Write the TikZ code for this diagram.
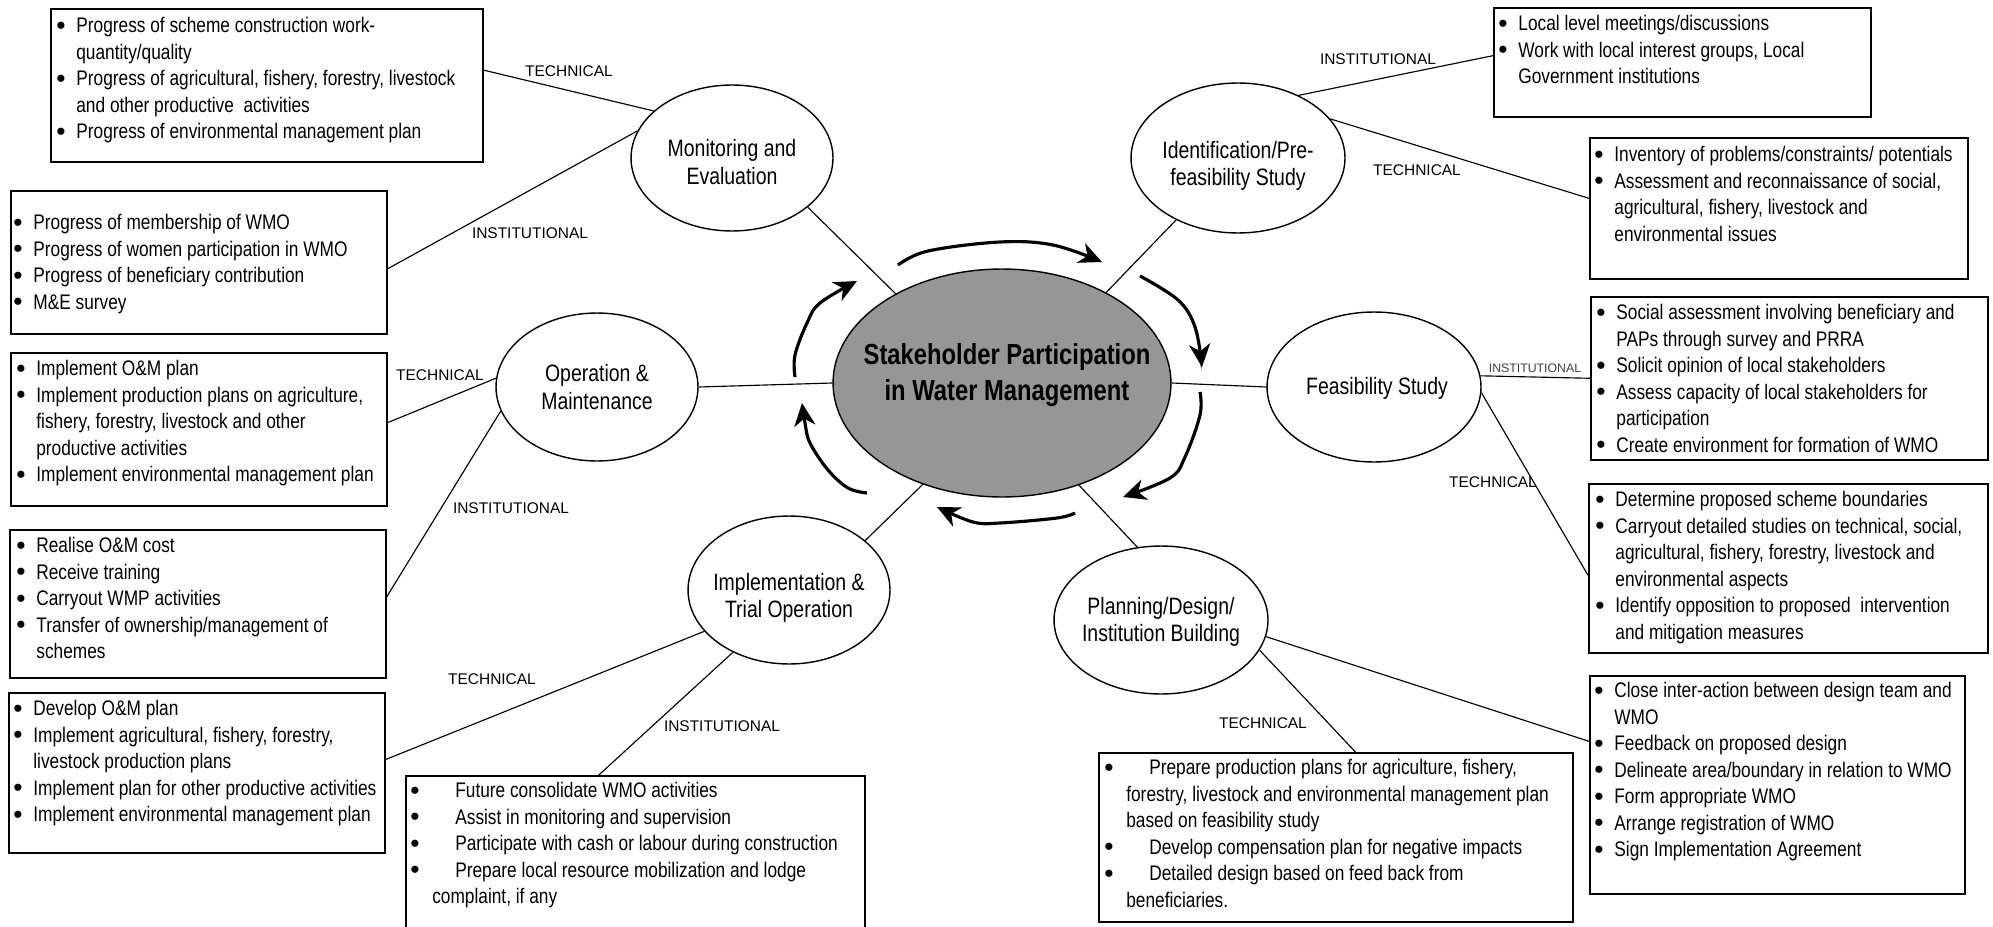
\documentclass[tikz,border=0pt]{standalone}
\usepackage{fontspec}
\setmainfont{Liberation Sans}[FakeStretch=0.82]
\newfontfamily\labelfont{Liberation Sans}
\usetikzlibrary{shapes.geometric, arrows.meta, calc}
\definecolor{hubgray}{RGB}{150,150,150}

\tikzset{
  stage/.style={ellipse, draw, line width=0.8pt, inner sep=0pt, minimum width=4.28cm, minimum height=3cm},
  hub/.style={stage, fill=hubgray, minimum width=6.76cm, minimum height=4.56cm},
  stagetext/.style={inner sep=0pt, align=center, font=\fontsize{13.5}{15.6}\selectfont},
  hubtext/.style={stagetext, font=\bfseries\fontsize{16.5}{20.5}\selectfont},
  infobox/.style={draw, line width=0.9pt, inner sep=0pt, anchor=north west},
  infotext/.style={anchor=north west, inner sep=0pt, align=left, font=\fontsize{12}{15.1}\selectfont},
  aspect/.style={inner sep=0pt, font=\labelfont\fontsize{8.8}{10}\selectfont},
  link/.style={line width=0.65pt},
  cyclearrow/.style={line width=1.8pt, -{Stealth[length=13pt, width=12pt, inset=4pt]}}
}
\newcommand{\bdot}{\raisebox{-0.08em}{\labelfont\fontsize{15}{15}\selectfont\textbullet}}
\newcommand{\bitem}{\makebox[11.4pt][l]{\bdot}}
\newcommand{\bcont}{\hspace*{11.4pt}}
\newcommand{\bwide}{\makebox[25.6pt][l]{\bdot}}
\newcommand{\bwcont}{\hspace*{12.5pt}}

\begin{document}
\begin{tikzpicture}[x=0.02cm, y=-0.02cm]
  % Frame
  \useasboundingbox (0,0) rectangle (1993,926);
  \fill[white] (0,0) rectangle (1993,926);
  % Hub and stages
  \node[hub] (hub) at (1002,383) {};
  \node[hubtext] (hubtxt) at (1007,375) {Stakeholder Participation\\in Water Management};
  \node[stage, minimum width=4.04cm, minimum height=2.92cm] (mon) at (732,158) {};
  \node[stagetext] (montxt) at (732,162) {Monitoring and\\Evaluation};
  \node[stage] (ident) at (1238,158) {};
  \node[stagetext] (identtxt) at (1238,166) {Identification/Pre-\\feasibility Study};
  \node[stage] (feas) at (1374,387) {};
  \node[stagetext] (feastxt) at (1377,388) {Feasibility Study};
  \node[stage, minimum height=2.96cm] (plan) at (1161,620) {};
  \node[stagetext] (plantxt) at (1161,622) {Planning/Design/\\Institution Building};
  \node[stage, minimum width=4.04cm, minimum height=2.96cm] (impl) at (789,590) {};
  \node[stagetext] (impltxt) at (789,598) {Implementation \&\\Trial Operation};
  \node[stage, minimum width=4.04cm, minimum height=2.96cm] (om) at (597,387) {};
  \node[stagetext] (omtxt) at (597,387) {Operation \&\\Maintenance};
  % Spokes
  \foreach \s/\h in {mon.327/hub.140, ident.225/hub.41, om.east/hub.west,
                     feas.west/hub.east, impl.33/hub.232, plan.108/hub.307}
    \draw[link] (\s) -- (\h);
  % Cycle arrows
  \draw[cyclearrow] plot[smooth, tension=0.6] coordinates {(898,265) (928,251) (1000,242) (1053,245) (1102,262)};
  \draw[cyclearrow] plot[smooth, tension=0.6] coordinates {(1140,276) (1178,300) (1195,327) (1202,367)};
  \draw[cyclearrow] plot[smooth, tension=0.6] coordinates {(1200,392) (1200,415) (1185,457) (1170,478) (1123,497)};
  \draw[cyclearrow] plot[smooth, tension=0.6] coordinates {(1075,513) (1057,518) (1000,523) (973,522) (937,507)};
  \draw[cyclearrow] plot[smooth, tension=0.6] coordinates {(867,493) (848,488) (828,470) (810,443) (805,423) (802,403)};
  \draw[cyclearrow] plot[smooth, tension=0.6] coordinates {(795,377) (795,355) (807,323) (820,303) (857,281)};
  % Boxes
  \node[infobox, minimum width=8.64cm, minimum height=3.06cm] (metech) at (50,8) {};
  \node[infobox, minimum width=7.52cm, minimum height=2.86cm] (meinst) at (10,190) {};
  \node[infobox, minimum width=7.52cm, minimum height=3.06cm] (omtech) at (10,352) {};
  \node[infobox, minimum width=7.52cm, minimum height=2.96cm] (ominst) at (9,529) {};
  \node[infobox, minimum width=7.52cm, minimum height=3.2cm] (imtech) at (8,692) {};
  \node[infobox, minimum width=9.18cm, minimum height=3.4cm] (iminst) at (405,775) {};
  \node[infobox, minimum width=7.54cm, minimum height=2.18cm] (identinst) at (1493,7) {};
  \node[infobox, minimum width=7.56cm, minimum height=2.82cm] (identtech) at (1589,137) {};
  \node[infobox, minimum width=7.94cm, minimum height=3.26cm] (feasinst) at (1590,296) {};
  \node[infobox, minimum width=7.98cm, minimum height=3.38cm] (feastech) at (1588,483) {};
  \node[infobox, minimum width=7.5cm, minimum height=4.36cm] (planinst) at (1589,675) {};
  \node[infobox, minimum width=9.48cm, minimum height=3.38cm] (plantech) at (1098,752) {};
  % Box texts
  \node[infotext] (metechtxt) at (56,17) {\bitem Progress of scheme construction work-\\
    \bcont quantity/quality\\
    \bitem Progress of agricultural, fishery, forestry, livestock\\
    \bcont and other productive\ \ activities\\
    \bitem Progress of environmental management plan};
  \node[infotext] (meinsttxt) at (13,214) {\bitem Progress of membership of WMO\\
    \bitem Progress of women participation in WMO\\
    \bitem Progress of beneficiary contribution\\
    \bitem M\&E survey};
  \node[infotext] (omtechtxt) at (16,360) {\bitem Implement O\&M plan\\
    \bitem Implement production plans on agriculture,\\
    \bcont fishery, forestry, livestock and other\\
    \bcont productive activities\\
    \bitem Implement environmental management plan};
  \node[infotext] (ominsttxt) at (16,537) {\bitem Realise O\&M cost\\
    \bitem Receive training\\
    \bitem Carryout WMP activities\\
    \bitem Transfer of ownership/management of\\
    \bcont schemes};
  \node[infotext] (imtechtxt) at (13,700) {\bitem Develop O\&M plan\\
    \bitem Implement agricultural, fishery, forestry,\\
    \bcont livestock production plans\\
    \bitem Implement plan for other productive activities\\
    \bitem Implement environmental management plan};
  \node[infotext] (iminsttxt) at (410,782) {\bwide Future consolidate WMO activities\\
    \bwide Assist in monitoring and supervision\\
    \bwide Participate with cash or labour during construction\\
    \bwide Prepare local resource mobilization and lodge\\
    \bwcont complaint, if any};
  \node[infotext] (identinsttxt) at (1498,15) {\bitem Local level meetings/discussions\\
    \bitem Work with local interest groups, Local\\
    \bcont Government institutions};
  \node[infotext] (identtechtxt) at (1594,146) {\bitem Inventory of problems/constraints/ potentials\\
    \bitem Assessment and reconnaissance of social,\\
    \bcont agricultural, fishery, livestock and\\
    \bcont environmental issues};
  \node[infotext] (feasinsttxt) at (1596,304) {\bitem Social assessment involving beneficiary and\\
    \bcont PAPs through survey and PRRA\\
    \bitem Solicit opinion of local stakeholders\\
    \bitem Assess capacity of local stakeholders for\\
    \bcont participation\\
    \bitem Create environment for formation of WMO};
  \node[infotext] (feastechtxt) at (1595,491) {\bitem Determine proposed scheme boundaries\\
    \bitem Carryout detailed studies on technical, social,\\
    \bcont agricultural, fishery, forestry, livestock and\\
    \bcont environmental aspects\\
    \bitem Identify opposition to proposed\ \ intervention\\
    \bcont and mitigation measures};
  \node[infotext] (planinsttxt) at (1594,682) {\bitem Close inter-action between design team and\\
    \bcont WMO\\
    \bitem Feedback on proposed design\\
    \bitem Delineate area/boundary in relation to WMO\\
    \bitem Form appropriate WMO\\
    \bitem Arrange registration of WMO\\
    \bitem Sign Implementation Agreement};
  \node[infotext] (plantechtxt) at (1104,759) {\bwide Prepare production plans for agriculture, fishery,\\
    \bwcont forestry, livestock and environmental management plan\\
    \bwcont based on feasibility study\\
    \bwide Develop compensation plan for negative impacts\\
    \bwide Detailed design based on feed back from\\
    \bwcont beneficiaries.};
  % Links from boxes
  \foreach \a/\b in {metech.4/mon.149, meinst.358/mon.164, omtech.2/om.175, ominst.2/om.194,
                     imtech.4/impl.206, iminst.113/impl.228, identinst.178/ident.46,
                     identtech.177/ident.23, feasinst.180/feas.6, feastech.182/feas.357,
                     planinst.167/plan.351, plantech.77/plan.343}
    \draw[link] (\a) -- (\b);
  % Labels
  \foreach \n/\x/\y/\t in {lmet/569/71/TECHNICAL, lmei/530/233/INSTITUTIONAL,
                           lomt/440/375/TECHNICAL, lomi/511/508/INSTITUTIONAL,
                           limt/492/679/TECHNICAL, limi/722/726/INSTITUTIONAL,
                           lidi/1378/59/INSTITUTIONAL, lidt/1417/170/TECHNICAL,
                           lfst/1493/482/TECHNICAL, lplt/1263/723/TECHNICAL}
    \node[aspect] (\n) at (\x,\y) {\t};
  \node[aspect, font=\labelfont\fontsize{7}{8}\selectfont, text=black!75] (lfsi) at (1535,368) {INSTITUTIONAL};
\end{tikzpicture}
\end{document}
